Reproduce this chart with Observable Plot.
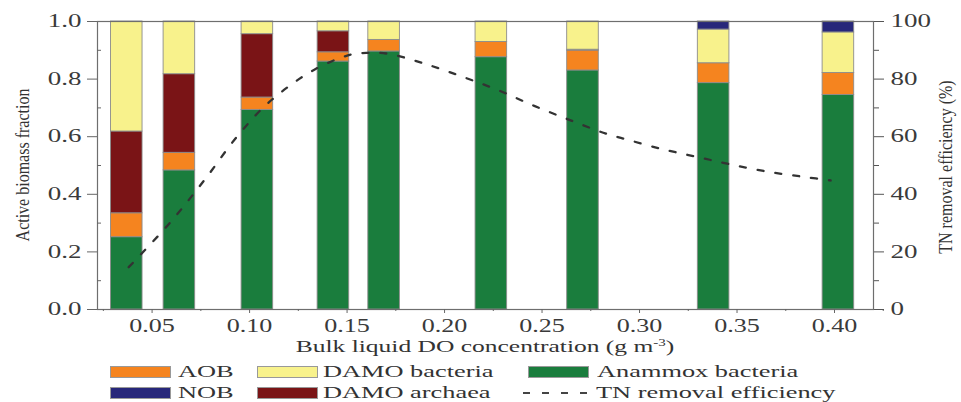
<!DOCTYPE html>
<html>
<head>
<meta charset="utf-8">
<script src="https://cdn.jsdelivr.net/npm/d3@7"></script>
<script src="https://cdn.jsdelivr.net/npm/@observablehq/plot@0.6"></script>
<style>
  body { margin: 0; background: #fff; font-family: "Liberation Serif", serif; color: #333; }
  #wrap { position: relative; width: 961px; height: 402px; overflow: hidden; }
  #chart { position: absolute; left: 0; top: 0; }
  .xt { position: absolute; left: 485px; top: 337px; white-space: nowrap; font-size: 17px; line-height: 20px;
        transform: translateX(-50%) scaleX(1.5); }
  .xt sup { font-size: 10px; vertical-align: 6px; line-height: 0; }
  .yt { position: absolute; white-space: nowrap; font-size: 16px; line-height: 20px; writing-mode: vertical-rl;
        transform: translate(-50%, -50%) rotate(180deg) scaleX(1.2); }
  .sw { position: absolute; width: 61px; height: 12px; box-sizing: border-box; border: 1px solid #999; }
  .lt { position: absolute; white-space: nowrap; font-size: 17px; line-height: 20px; transform: scaleX(1.55); transform-origin: left center; }
</style>
</head>
<body>
<div id="wrap">
  <div id="chart"></div>
  <div class="yt" style="left:23px; top:165px;">Active biomass fraction</div>
  <div class="yt" style="left:946px; top:167px;">TN removal efficiency (%)</div>
  <div class="xt">Bulk liquid DO concentration (g m<sup>-3</sup>)</div>
  <div id="legend"></div>
</div>
<script>
// ---- data ----
const doValues     = [0.037, 0.064, 0.104, 0.143, 0.169, 0.224, 0.271, 0.338, 0.402];
const anammox      = [0.251, 0.483, 0.693, 0.861, 0.896, 0.876, 0.830, 0.786, 0.745];
const aob          = [0.083, 0.061, 0.043, 0.032, 0.040, 0.053, 0.069, 0.069, 0.076];
const damoArchaea  = [0.284, 0.273, 0.220, 0.073, 0.000, 0.000, 0.003, 0.000, 0.000];
const damoBacteria = [0.382, 0.183, 0.044, 0.034, 0.064, 0.071, 0.098, 0.117, 0.141];
const nob          = [0.000, 0.000, 0.000, 0.000, 0.000, 0.000, 0.000, 0.028, 0.038];

const tnDO  = [0.038, 0.059, 0.077, 0.094, 0.110, 0.133, 0.152, 0.161, 0.171, 0.189, 0.208, 0.227, 0.246, 0.265, 0.283, 0.292, 0.311, 0.330, 0.348, 0.367, 0.386, 0.398];
const tnEff = [14.7, 30.0, 45.1, 60.4, 72.0, 83.2, 88.5, 89.1, 88.8, 85.5, 81.1, 76.3, 70.7, 65.6, 61.0, 59.3, 55.8, 52.9, 50.2, 47.7, 45.9, 44.8];

const seriesNames  = ["Anammox bacteria", "AOB", "DAMO archaea", "DAMO bacteria", "NOB"];
const seriesValues = [anammox, aob, damoArchaea, damoBacteria, nob];
const seriesColors = ["#1a7d3d", "#f5841f", "#7a1416", "#f8f28c", "#27277a"];

const xTicks  = [0.05, 0.10, 0.15, 0.20, 0.25, 0.30, 0.35, 0.40];
const xMinor  = [0.025, 0.075, 0.125, 0.175, 0.225, 0.275, 0.325, 0.375, 0.425];
const yTicks  = [0, 0.2, 0.4, 0.6, 0.8, 1.0];
const yMinor  = [0.1, 0.3, 0.5, 0.7, 0.9];
const barW = 0.0162;

// ---- tables ----
const stackRows = [];
seriesNames.forEach((name, s) => doValues.forEach((x, i) => {
  if (seriesValues[s][i] > 0) stackRows.push({do: x, group: name, value: seriesValues[s][i]});
}));
const tn = tnDO.map((x, i) => ({do: x, tn: tnEff[i]}));

const chart = Plot.plot({
  width: 961,
  height: 337,
  marginLeft: 97,
  marginRight: 88,
  marginTop: 21,
  marginBottom: 28,
  style: {fontFamily: "Liberation Serif", fontSize: "18px", color: "#3a3a3a", background: "#fff"},
  x: {domain: [0.022, 0.42]},
  y: {domain: [0, 1]},
  color: {domain: seriesNames, range: seriesColors},
  marks: [
    Plot.rectY(stackRows, {
      x1: d => d.do - barW / 2, x2: d => d.do + barW / 2, y: "value",
      fill: "group", order: seriesNames, stroke: "#8c8c8c", strokeWidth: 0.9
    }),
    Plot.line(tn, {x: "do", y: d => d.tn / 100, stroke: "#333", strokeWidth: 2.3,
      strokeDasharray: "6,12", curve: "catmull-rom"}),
    Plot.frame({stroke: "#6e6e6e", strokeWidth: 1.2}),
    Plot.axisX({ticks: xTicks, tickFormat: ".2f", tickSize: 4, tickPadding: 6, label: null, stroke: "#666"}),
    Plot.axisX({ticks: xMinor, tickFormat: () => "", tickSize: 2, label: null, stroke: "#666"}),
    Plot.axisY({anchor: "left", ticks: yTicks, tickFormat: ".1f", tickSize: 10, tickPadding: 6, label: null, stroke: "#666"}),
    Plot.axisY({anchor: "left", ticks: yMinor, tickFormat: () => "", tickSize: -4, label: null, stroke: "#666"}),
    Plot.axisY({anchor: "right", ticks: yTicks, tickFormat: d => Math.round(d * 100), tickSize: 10, tickPadding: 7, label: null, stroke: "#555"}),
    Plot.axisY({anchor: "right", ticks: yMinor, tickFormat: () => "", tickSize: 5, label: null, stroke: "#555"})
  ]
});
document.getElementById("chart").appendChild(chart);

// horizontal stretch of tick labels (the reference is widened); keep Plot's y / dy offsets
function stretch(sel, k) {
  chart.querySelectorAll(sel).forEach(t => {
    const xa = t.getAttribute("x");
    let extra = "";
    if (xa !== null && isFinite(+xa)) { extra = ` translate(${+xa},0)`; t.removeAttribute("x"); }
    const tr = t.getAttribute("transform") || "";
    t.setAttribute("transform", `${tr}${extra} scale(${k},1)`);
  });
}
stretch('g[aria-label="x-axis tick label"] text', 1.45);
stretch('g[aria-label="y-axis tick label"] text', 1.5);

// ---- legend ----
const legendItems = [
  {label: "AOB", color: seriesColors[1], sx: 110, tx: 178, row: 0},
  {label: "DAMO bacteria", color: seriesColors[3], sx: 257, tx: 323, row: 0},
  {label: "Anammox bacteria", color: seriesColors[0], sx: 528, tx: 597, row: 0},
  {label: "NOB", color: seriesColors[4], sx: 110, tx: 178, row: 1},
  {label: "DAMO archaea", color: seriesColors[2], sx: 257, tx: 323, row: 1},
  {label: "TN removal efficiency", color: null, sx: 523, tx: 596, row: 1}
];
const rowCenters = [372, 393];
const lg = document.getElementById("legend");
legendItems.forEach(it => {
  const cy = rowCenters[it.row];
  if (it.color) {
    const s = document.createElement("div");
    s.className = "sw";
    s.style.left = it.sx + "px";
    s.style.top = (cy - 6) + "px";
    s.style.background = it.color;
    lg.appendChild(s);
  } else {
    const ns = "http://www.w3.org/2000/svg";
    const svg = document.createElementNS(ns, "svg");
    svg.setAttribute("width", 70); svg.setAttribute("height", 6);
    svg.style.position = "absolute"; svg.style.left = it.sx + "px"; svg.style.top = (cy - 3) + "px";
    const l = document.createElementNS(ns, "line");
    l.setAttribute("x1", 0); l.setAttribute("x2", 70); l.setAttribute("y1", 3); l.setAttribute("y2", 3);
    l.setAttribute("stroke", "#444"); l.setAttribute("stroke-width", 2.2); l.setAttribute("stroke-dasharray", "7,12");
    svg.appendChild(l);
    lg.appendChild(svg);
  }
  const t = document.createElement("div");
  t.className = "lt";
  t.textContent = it.label;
  t.style.left = it.tx + "px";
  t.style.top = (cy - 10) + "px";
  lg.appendChild(t);
});
</script>
</body>
</html>
